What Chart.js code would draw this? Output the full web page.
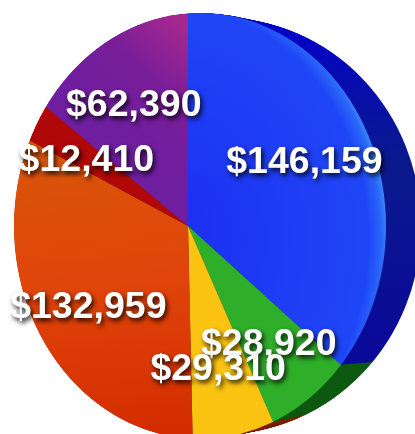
<!DOCTYPE html>
<html>
<head>
<meta charset="utf-8">
<style>html,body{margin:0;padding:0;background:#fff}canvas{display:block}</style>
<script src="https://cdn.jsdelivr.net/npm/chart.js@4/dist/chart.umd.min.js"></script>
</head>
<body>
<canvas id="c" width="415" height="434"></canvas>
<script>
const categories = ['Blue', 'Green', 'Yellow', 'Orange', 'Red', 'Purple'];
const values = [146159, 28920, 29310, 132959, 12410, 62390];
const wallColors = ['#0a14a6', '#0f5a12', '#7a2204', '#7a2204', '#7a2204', '#0a14a6'];
const labelRadii = [0.613, 0.597, 0.578, 0.564, 0.555, 0.56];

const cv = document.getElementById('c');
const g = cv.getContext('2d');
// Page position of the pie hub and the perspective stretch of the tilted disc
const hub = {x: 188, y: 226}, kx = 1.02, ky = 1.2;
const face = {x: 200, y: 226, rx: 186, ry: 213};
const wall = {x: 222, y: 226, rx: 199, ry: 208};
const depth = 37;
const px = x => (x - hub.x) / kx + 207.5;
const py = y => (y - hub.y) / ky + 217;
function lin(x0, y0, x1, y1, stops) {
  const gr = g.createLinearGradient(px(x0), py(y0), px(x1), py(y1));
  stops.forEach((c, i) => gr.addColorStop(i / (stops.length - 1), c));
  return gr;
}
const blue = g.createRadialGradient(px(170), py(240), 0, px(170), py(240), 212);
blue.addColorStop(0, '#1c2ef2'); blue.addColorStop(0.92, '#1f46f6');
blue.addColorStop(0.98, '#2a68f8'); blue.addColorStop(1, '#3a80f8');
const faceColors = [
  blue, '#2fae2a', '#fcc412',
  lin(100, 140, 120, 434, ['#d9560a', '#e0440a', '#d42c00']),
  '#b00808',
  lin(125, 130, 190, 30, ['#6f1e9f', '#7a1e98', '#a6288f'])
];
const wallBlue = lin(300, 30, 380, 330, ['#0404c4', '#0a1a8c', '#0a0a98']);

function setView(c, ox, oy) {
  c.translate(hub.x + ox, hub.y + oy);
  c.scale(kx, ky);
  c.translate(-207.5, -217);
}
function ellipsePath(c, e) {
  c.beginPath();
  c.ellipse(e.x, e.y, e.rx, e.ry, 0, 0, Math.PI * 2);
}

const disc3d = {
  id: 'disc3d',
  beforeDatasetsDraw(chart) {
    const c = chart.ctx, arcs = chart.getDatasetMeta(0).data;
    // extruded wall: same arcs, swept sideways in the dark colours
    for (let i = depth; i > 0; i--) {
      const t = i / depth;
      const e = {x: face.x + (wall.x - face.x) * t, y: face.y,
                 rx: face.rx + (wall.rx - face.rx) * t, ry: face.ry + (wall.ry - face.ry) * t};
      c.save();
      ellipsePath(c, e); c.clip();
      setView(c, (wall.x - face.x) * t + 12 * t, 0);
      arcs.forEach((a, k) => {
        const saved = a.options;
        a.options = Object.assign({}, saved, {backgroundColor: k === 0 || k === 5 ? wallBlue : wallColors[k]});
        a.draw(c);
        a.options = saved;
      });
      c.restore();
    }
    c.save();
    ellipsePath(c, face); c.clip();
    setView(c, 0, 0);
  },
  afterDatasetsDraw(chart) {
    const c = chart.ctx;
    c.restore();
    chart.getDatasetMeta(0).data.forEach((a, i) => {
      const mid = (a.startAngle + a.endAngle) / 2;
      const r = a.outerRadius * labelRadii[i];
      const x = hub.x + kx * r * Math.cos(mid);
      const y = hub.y + ky * r * Math.sin(mid) + 4;
      c.save();
      c.font = 'bold 37.5px "Liberation Sans", Arial, sans-serif';
      c.textAlign = 'center';
      c.textBaseline = 'middle';
      c.fillStyle = '#fff';
      c.shadowColor = 'rgba(0,0,0,0.85)';
      c.shadowOffsetX = 2; c.shadowOffsetY = 3; c.shadowBlur = 5;
      c.fillText('$' + values[i].toLocaleString('en-US'), x, y);
      c.restore();
    });
  }
};

new Chart(cv, {
  type: 'pie',
  data: {labels: categories, datasets: [{data: values, backgroundColor: faceColors, borderWidth: 0}]},
  options: {
    responsive: false,
    animation: false,
    layout: {padding: 0},
    plugins: {legend: {display: false}, tooltip: {enabled: false}}
  },
  plugins: [disc3d]
});
</script>
</body>
</html>
